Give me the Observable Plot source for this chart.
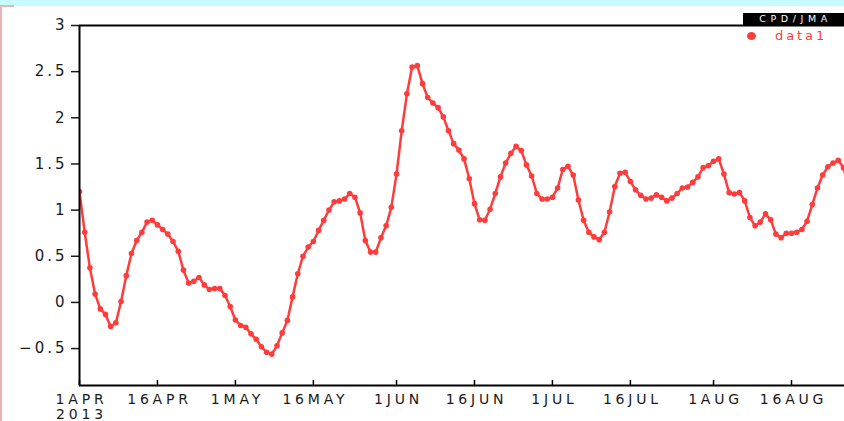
<!DOCTYPE html>
<html>
<head>
<meta charset="utf-8">
<script src="https://cdn.jsdelivr.net/npm/d3@7"></script>
<script src="https://cdn.jsdelivr.net/npm/@observablehq/plot@0.6"></script>
<style>
html, body { margin: 0; padding: 0; background: #fff; }
body { width: 844px; height: 421px; overflow: hidden; position: relative; font-family: "DejaVu Sans", sans-serif; }
#band { position: absolute; left: 0; top: 0; width: 844px; height: 6px; background: #c6fbff; }
#pinkL { position: absolute; left: 0; top: 6px; width: 2px; height: 415px; background: #e8b4b4; }
#pinkT { position: absolute; left: 0; top: 5px; width: 14px; height: 2px; background: #e8b4b4; }
#chart { position: absolute; left: 0; top: 6px; }
#src { position: absolute; left: 743px; top: 13px; width: 101px; height: 12px; background: #000; color: #fff;
  font-size: 9.5px; line-height: 12px; letter-spacing: 4.6px; text-align: center; text-indent: 4px; }
#legdot { position: absolute; left: 747px; top: 32px; width: 9px; height: 8px; border-radius: 50%; background: #ff3c3c; }
#legtxt { position: absolute; left: 775px; top: 28px; color: #ff3c3c; font-size: 13px; line-height: 15px;
  letter-spacing: 2.9px; white-space: nowrap; }
g[aria-label="y-axis tick label"] text { letter-spacing: 3px; }
g[aria-label="x-axis tick label"] text { letter-spacing: 3.8px; }
</style>
</head>
<body>
<div id="band"></div>
<div id="pinkT"></div>
<div id="pinkL"></div>
<div id="chart"></div>
<div id="src">CPD/JMA</div>
<div id="legdot"></div>
<div id="legtxt">data1</div>
<script>
// Daily values from 1 April 2013
const values = [
  1.20, 0.76, 0.375, 0.09, -0.07, -0.13, -0.26, -0.22, 0.01, 0.29,
  0.53, 0.67, 0.76, 0.87, 0.89, 0.84, 0.79, 0.74, 0.66, 0.555,
  0.35, 0.21, 0.23, 0.27, 0.19, 0.14, 0.15, 0.15, 0.075, -0.045,
  -0.19, -0.25, -0.27, -0.34, -0.40, -0.48, -0.54, -0.56, -0.47, -0.33,
  -0.195, 0.06, 0.31, 0.50, 0.60, 0.66, 0.78, 0.89, 1.00, 1.09,
  1.10, 1.12, 1.18, 1.14, 0.97, 0.67, 0.545, 0.545, 0.70, 0.83,
  1.03, 1.39, 1.86, 2.26, 2.55, 2.565, 2.37, 2.22, 2.16, 2.11,
  2.01, 1.86, 1.72, 1.65, 1.555, 1.34, 1.07, 0.895, 0.89, 1.01,
  1.18, 1.36, 1.51, 1.615, 1.69, 1.645, 1.49, 1.37, 1.18, 1.12,
  1.12, 1.14, 1.24, 1.44, 1.475, 1.38, 1.11, 0.89, 0.76, 0.71,
  0.68, 0.76, 0.98, 1.255, 1.40, 1.41, 1.31, 1.22, 1.16, 1.12,
  1.13, 1.165, 1.14, 1.10, 1.13, 1.18, 1.24, 1.25, 1.30, 1.36,
  1.46, 1.48, 1.53, 1.555, 1.39, 1.19, 1.175, 1.19, 1.10, 0.92,
  0.83, 0.87, 0.96, 0.895, 0.74, 0.70, 0.75, 0.75, 0.76, 0.79,
  0.88, 1.06, 1.24, 1.38, 1.47, 1.51, 1.54, 1.46, 1.25
];
const startDate = new Date(Date.UTC(2013, 3, 1));
const endDate = new Date(Date.UTC(2013, 3, 1) + 147.2 * 864e5);
const xTickDates = ["2013-04-01", "2013-04-16", "2013-05-01", "2013-05-16", "2013-06-01",
  "2013-06-16", "2013-07-01", "2013-07-16", "2013-08-01", "2013-08-16"];
const xTickLabels = ["1APR\n2013", "16APR", "1MAY", "16MAY", "1JUN", "16JUN", "1JUL", "16JUL", "1AUG", "16AUG"];
const yTicks = [-0.5, 0, 0.5, 1, 1.5, 2, 2.5, 3];
const yTickLabels = ["\u22120.5", "0", "0.5", "1", "1.5", "2", "2.5", "3"];

const red = "#ff3c3c";
const data = values.map((v, i) => ({date: new Date(startDate.getTime() + i * 864e5), value: v}));
const xTicks = xTickDates.map(s => new Date(s + "T00:00:00Z"));
const xLab = d => xTickLabels[xTicks.findIndex(t => t.getTime() === +d)];
const yLab = d => yTickLabels[yTicks.indexOf(d)];
const upTick = {draw(ctx, l) { ctx.moveTo(0, 0); ctx.lineTo(0, -l); }};

const chart = Plot.plot({
  width: 844,
  height: 415,
  marginLeft: 79,
  marginRight: 0,
  marginTop: 19,
  marginBottom: 36,
  x: {type: "utc", domain: [startDate, endDate], label: null},
  y: {domain: [-0.9, 3], label: null},
  style: {fontFamily: "DejaVu Sans, sans-serif", fontSize: "15px", color: "#1a1a1a", background: "transparent", overflow: "visible"},
  marks: [
    Plot.axisY(yTicks, {tickSize: 8, tickPadding: 4, tickFormat: yLab, strokeWidth: 1.5, fontSize: 15, label: null}),
    Plot.axisX(xTicks, {tickSize: 0, tickPadding: 7, tickFormat: xLab, fontSize: 14, lineHeight: 1.12, dx: 2, label: null}),
    Plot.vector(xTicks, {x: d => d, y: -0.9, length: 5, rotate: 0, anchor: "start", shape: upTick, stroke: "#000", strokeWidth: 1.5}),
    Plot.line(data, {x: "date", y: "value", stroke: red, strokeWidth: 2.5, clip: true}),
    Plot.dot(data, {x: "date", y: "value", r: 2.8, fill: red, clip: true}),
    Plot.ruleX([startDate], {stroke: "#000", strokeWidth: 2}),
    Plot.ruleY([-0.9, 3], {stroke: "#000", strokeWidth: 2})
  ]
});
document.getElementById("chart").appendChild(chart);
</script>
</body>
</html>
